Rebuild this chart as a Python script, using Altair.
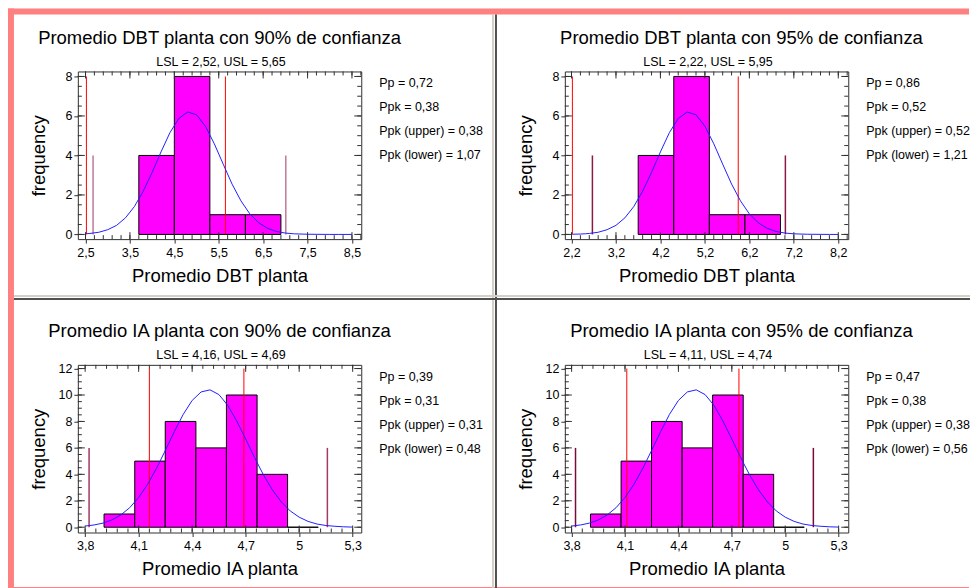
import altair as alt
import numpy as np
import pandas as pd

FONT = "Liberation Sans"
W, H = 284, 168

# ---------------- data ----------------
titles = [
    "Promedio DBT planta con 90% de confianza",
    "Promedio DBT planta con 95% de confianza",
    "Promedio IA planta con 90% de confianza",
    "Promedio IA planta con 95% de confianza",
]
x_titles = ["Promedio DBT planta", "Promedio DBT planta", "Promedio IA planta", "Promedio IA planta"]
lsl = [2.52, 2.22, 4.16, 4.11]
usl = [5.65, 5.95, 4.69, 4.74]
pp = [0.72, 0.86, 0.39, 0.47]
ppk = [0.38, 0.52, 0.31, 0.38]
ppk_upper = [0.38, 0.52, 0.31, 0.38]
ppk_lower = [1.07, 1.21, 0.48, 0.56]

# DBT histogram (shared by both DBT panels)
dbt_edges = [3.7, 4.5, 5.3, 6.1, 6.9]
dbt_counts = [4, 8, 1, 1]
dbt_sigma = [2.67, 7.01]
dbt_curve_x = [2.22, 2.4, 2.52, 2.6, 2.8, 3.0, 3.2, 3.4, 3.6, 3.8, 4.0, 4.2, 4.4, 4.6, 4.8,
               5.0, 5.2, 5.4, 5.6, 5.8, 6.0, 6.2, 6.4, 6.6, 6.8, 7.0, 7.2, 7.5, 8.0, 8.2, 8.5]
dbt_curve_y = [0.01, 0.02, 0.035, 0.05, 0.11, 0.24, 0.46, 0.84, 1.41, 2.19, 3.14, 4.18, 5.15, 5.87, 6.2,
               6.06, 5.48, 4.59, 3.56, 2.55, 1.70, 1.04, 0.59, 0.31, 0.15, 0.07, 0.03, 0.01, 0.0, 0.0, 0.0]

# IA histogram (shared by both IA panels)
ia_edges = [3.906, 4.078, 4.249, 4.421, 4.592, 4.764, 4.935, 5.107]
ia_counts = [1, 5, 8, 6, 10, 4, 0]
ia_sigma = [3.822, 5.158]
ia_curve_x = [3.80, 3.85, 3.90, 3.95, 4.00, 4.05, 4.10, 4.15, 4.20, 4.25, 4.30, 4.35, 4.40, 4.45, 4.50,
              4.55, 4.60, 4.65, 4.70, 4.75, 4.80, 4.85, 4.90, 4.95, 5.00, 5.05, 5.10, 5.15, 5.20, 5.25, 5.30]
ia_curve_y = [0.09, 0.17, 0.31, 0.55, 0.93, 1.48, 2.25, 3.24, 4.45, 5.82, 7.23, 8.54, 9.59, 10.23, 10.39,
              10.03, 9.21, 8.03, 6.67, 5.26, 3.95, 2.82, 1.91, 1.23, 0.76, 0.44, 0.24, 0.13, 0.07, 0.03, 0.01]

dbt_ticks_90 = [2.5, 3.5, 4.5, 5.5, 6.5, 7.5, 8.5]
dbt_ticks_95 = [2.2, 3.2, 4.2, 5.2, 6.2, 7.2, 8.2]
ia_ticks = [3.8, 4.1, 4.4, 4.7, 5.0, 5.3]
freq_ticks_dbt = [0, 2, 4, 6, 8]
freq_ticks_ia = [0, 2, 4, 6, 8, 10, 12]

sigma_colors = ["#c07898", "#8c1848", "#a03a68", "#7a0a38"]

FRAME = "#303030"


def comma(v):
    return f"{v:.2f}".replace(".", ",")


def one(d=None):
    return alt.Data(values=[d or {}])


def pixel_rect(x0, x1, y0, y1, color):
    return alt.Chart(one()).mark_rect(color=color).encode(
        x=alt.value(x0), x2=alt.value(x1), y=alt.value(y0), y2=alt.value(y1))


def text_at(t, x, y, size, align="left"):
    return alt.Chart(one({"t": t})).mark_text(
        font=FONT, fontSize=size, align=align, baseline="alphabetic", color="#000000"
    ).encode(text="t:N", x=alt.value(x), y=alt.value(y))


def panel(k, edges, counts, cx, cy, sigma, xdom, ydom, xticks, yticks, x_minor, curve_rng,
          title_dx, decor=False):
    xs = alt.Scale(domain=xdom, nice=False, zero=False)
    ys = alt.Scale(domain=ydom, nice=False, zero=False)
    ytop = yticks[-1]

    xaxis = alt.Axis(values=xticks, labelExpr="replace(toString(round(datum.value*10)/10), '.', ',')",
                     tickSize=4, labelPadding=3, title=x_titles[k], titleX=W / 2, titleY=42,
                     titleBaseline="alphabetic")
    yaxis = alt.Axis(values=yticks, tickSize=4, labelPadding=2, title="frequency",
                     titleX=-33, titleY=H / 2, titleBaseline="alphabetic")

    def X(f):
        return alt.X(f, type="quantitative", scale=xs, axis=xaxis)

    def Y(f):
        return alt.Y(f, type="quantitative", scale=ys, axis=yaxis)

    bars = pd.DataFrame({"lo": edges[:-1], "hi": edges[1:], "n": counts, "z": 0})
    hist = alt.Chart(bars).mark_rect(fill="#FF00FF", stroke="#000000", strokeWidth=1).encode(
        x=X("lo"), x2="hi:Q", y=Y("n"), y2="z:Q")

    spec = pd.DataFrame({"lo": [lsl[k], usl[k]], "z": 0, "n": ytop})
    spec_rules = alt.Chart(spec).mark_rule(color="#FF0000", strokeWidth=1).encode(
        x=X("lo"), y=Y("z"), y2="n:Q")

    sig = pd.DataFrame({"lo": sigma, "z": 0, "n": ytop / 2})
    sig_rules = alt.Chart(sig).mark_rule(color=sigma_colors[k], strokeWidth=1.5).encode(
        x=X("lo"), y=Y("z"), y2="n:Q")

    curve = pd.DataFrame({"lo": cx, "n": cy})
    curve = curve[(curve.lo >= curve_rng[0] - 1e-9) & (curve.lo <= curve_rng[1] + 1e-9)]
    line = alt.Chart(curve).mark_line(color="#2020FF", strokeWidth=1).encode(
        x=X("lo"), y=Y("n"), order="lo:Q")

    # inward frame ticks
    xm = pd.DataFrame({"lo": x_minor})
    ym = pd.DataFrame({"n": np.arange(0, ytop + 0.01, 0.5)})
    xM = pd.DataFrame({"lo": xticks})
    yM = pd.DataFrame({"n": yticks})
    tk = []
    for df, ln in ((xm, 4), (xM, 7)):
        for y0, y1 in ((0, ln), (H - ln, H)):
            tk.append(alt.Chart(df).mark_rule(color=FRAME, strokeWidth=1).encode(
                x=X("lo"), y=alt.value(y0), y2=alt.value(y1)))
    for df, ln in ((ym, 4), (yM, 7)):
        for x0, x1 in ((0, ln), (W - ln, W)):
            tk.append(alt.Chart(df).mark_rule(color=FRAME, strokeWidth=1).encode(
                y=Y("n"), x=alt.value(x0), x2=alt.value(x1)))

    texts = [
        text_at(titles[k], W / 2 + title_dx, -27.5, 18.5, "center"),
        text_at(f"LSL = {comma(lsl[k])}, USL = {comma(usl[k])}", W / 2 + 1.5, -5.5, 12.5, "center"),
        text_at(f"Pp = {comma(pp[k])}", W + 18, 16, 12.5),
        text_at(f"Ppk = {comma(ppk[k])}", W + 18, 40, 12.5),
        text_at(f"Ppk (upper) = {comma(ppk_upper[k])}", W + 18, 64, 12.5),
        text_at(f"Ppk (lower) = {comma(ppk_lower[k])}", W + 18, 88, 12.5),
    ]

    layers = [hist, sig_rules, spec_rules, line] + tk + texts
    if decor:
        # window frame: pink border and grey splitters between the four panes
        layers += [
            pixel_rect(-70, -64, -63, 518, "#FF8080"),
            pixel_rect(-70, 893, -63, -57, "#FF8080"),
            pixel_rect(-70, 893, 516.5, 518, "#FF8080"),
            pixel_rect(415, 417, -57, 518, "#D4D0C8"),
            pixel_rect(418, 420, -57, 518, "#505050"),
            pixel_rect(-64, 894, 224, 226, "#D4D0C8"),
            pixel_rect(-64, 894, 227, 229, "#505050"),
        ]
    return alt.layer(*layers).properties(width=W, height=H)


def minor(lo, hi, start, step):
    vals = np.round(np.arange(start, hi, step), 4)
    return [v for v in vals if lo <= v <= hi]


p1 = panel(0, dbt_edges, dbt_counts, dbt_curve_x, dbt_curve_y, dbt_sigma,
           [2.327, 8.709], [-0.237, 8.253], dbt_ticks_90, freq_ticks_dbt,
           minor(2.327, 8.709, 2.3, 0.2), (2.52, 8.5), 0, decor=True)
p2 = panel(1, dbt_edges, dbt_counts, dbt_curve_x, dbt_curve_y, dbt_sigma,
           [2.05, 8.424], [-0.237, 8.253], dbt_ticks_95, freq_ticks_dbt,
           minor(2.05, 8.424, 2.0, 0.2), (2.22, 8.2), 35)
p3 = panel(2, ia_edges, ia_counts, ia_curve_x, ia_curve_y, ia_sigma,
           [3.759, 5.348], [-0.40, 12.28], ia_ticks, freq_ticks_ia,
           minor(3.759, 5.348, 3.74, 0.06), (3.8, 5.3), 0)
p4 = panel(3, ia_edges, ia_counts, ia_curve_x, ia_curve_y, ia_sigma,
           [3.762, 5.354], [-0.40, 12.28], ia_ticks, freq_ticks_ia,
           minor(3.762, 5.354, 3.74, 0.06), (3.8, 5.3), 35)

chart = alt.concat(p1, p2, p3, p4, columns=2, spacing={"row": 126, "column": 204}, bounds="flush").properties(
    padding={"left": 7, "top": 7, "right": 0, "bottom": 0}, background="white"
).configure_view(stroke=FRAME, strokeWidth=1).configure_axis(
    labelFont=FONT, labelFontSize=12.5, labelColor="#000000",
    titleFont=FONT, titleFontSize=18.5, titleFontWeight="normal", titleColor="#000000",
    tickColor=FRAME, domain=False, grid=False,
)

chart.save("out.html", embed_options={"renderer": "svg", "actions": False})
